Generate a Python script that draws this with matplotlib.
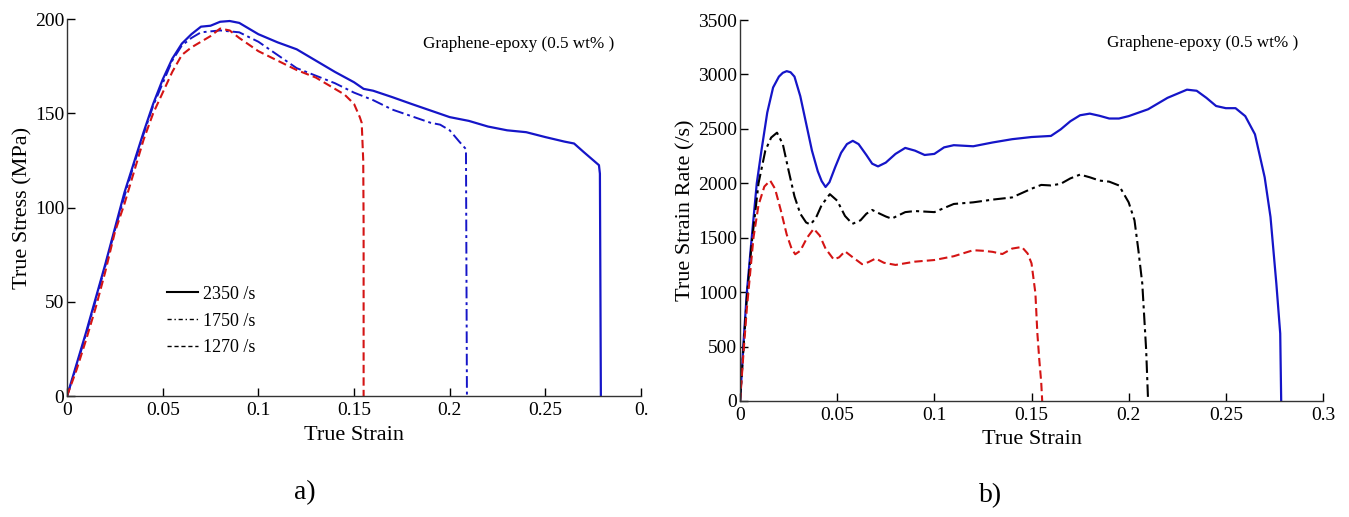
import matplotlib
matplotlib.use("Agg")
import matplotlib.pyplot as plt
from matplotlib.lines import Line2D

plt.rcParams['font.family'] = ['Liberation Serif', 'DejaVu Serif']

# ---- Panel a) True stress vs true strain ----
s2350_strain = [0, 0.005, 0.01, 0.015, 0.02, 0.025, 0.03, 0.035, 0.04, 0.045, 0.05, 0.055, 0.06, 0.065,
                0.07, 0.075, 0.08, 0.085, 0.09, 0.1, 0.11, 0.12, 0.13, 0.14, 0.15, 0.155, 0.16, 0.17,
                0.18, 0.19, 0.2, 0.21, 0.22, 0.23, 0.24, 0.25, 0.26, 0.265, 0.27, 0.278, 0.2785, 0.279]
s2350_stress = [0, 17, 34, 52, 70, 89, 108, 124, 140, 155, 168, 179, 187, 192,
                196, 196.5, 198.6, 199, 198, 192, 187.7, 184, 178, 172, 166.5, 163, 162, 158.6,
                155, 151.5, 148, 146, 143, 141, 140, 137.4, 135, 134, 129.5, 122.5, 118, 0]

s1750_strain = [0, 0.005, 0.01, 0.015, 0.02, 0.025, 0.03, 0.035, 0.04, 0.045, 0.05, 0.055, 0.06, 0.065,
                0.07, 0.08, 0.09, 0.1, 0.11, 0.12, 0.13, 0.14, 0.15, 0.16, 0.17, 0.18, 0.19, 0.195,
                0.2, 0.205, 0.2085, 0.209]
s1750_stress = [0, 16, 33, 51, 69, 88, 106, 123, 139, 154, 166, 178, 186, 190,
                193, 194, 193, 188, 181, 174, 170, 166, 161, 157, 152, 148.5, 145, 144,
                141, 135, 131, 0]

s1270_strain = [0, 0.005, 0.01, 0.015, 0.02, 0.025, 0.03, 0.035, 0.04, 0.045, 0.05, 0.055, 0.06, 0.065,
                0.07, 0.075, 0.08, 0.085, 0.09, 0.1, 0.11, 0.12, 0.13, 0.14, 0.145, 0.15, 0.153, 0.154,
                0.1548, 0.155, 0.155]
s1270_stress = [0, 14, 30, 47, 66, 87, 102, 119, 136, 150, 161, 172, 181, 185,
                188, 191, 195, 194, 190, 183, 178, 173, 169, 163, 160, 155, 148, 145,
                125, 90, 0]

# ---- Panel b) True strain rate vs true strain ----
r2350_strain = [0, 0.002, 0.0035, 0.006, 0.0086, 0.011, 0.014, 0.017, 0.02, 0.022, 0.024, 0.026, 0.028,
                0.031, 0.034, 0.037, 0.04, 0.042, 0.044, 0.046, 0.049, 0.052, 0.055, 0.058, 0.061, 0.065,
                0.068, 0.071, 0.075, 0.08, 0.085, 0.09, 0.095, 0.1, 0.105, 0.11, 0.115, 0.12,
                0.13, 0.14, 0.15, 0.16, 0.165, 0.17, 0.175, 0.18, 0.185, 0.19, 0.195, 0.2, 0.21, 0.22,
                0.23, 0.235, 0.24, 0.245, 0.25, 0.255, 0.26, 0.265, 0.27, 0.273, 0.276, 0.278, 0.2785]
r2350_rate = [0, 600, 1000, 1500, 2000, 2300, 2650, 2880, 2980, 3015, 3030, 3020, 2980,
              2800, 2550, 2300, 2110, 2020, 1966, 2010, 2150, 2280, 2360, 2390, 2360, 2260,
              2180, 2155, 2190, 2270, 2325, 2300, 2260, 2270, 2330, 2350, 2345, 2340,
              2375, 2405, 2425, 2435, 2495, 2570, 2625, 2640, 2620, 2595, 2595, 2617, 2680, 2785,
              2860, 2850, 2785, 2710, 2690, 2690, 2617, 2450, 2055, 1690, 1080, 620, 0]

r1750_strain = [0, 0.002, 0.0035, 0.006, 0.0095, 0.013, 0.016, 0.019, 0.022, 0.025, 0.028, 0.031, 0.034,
                0.0362, 0.039, 0.042, 0.0462, 0.05, 0.054, 0.0578, 0.062, 0.065, 0.068, 0.072, 0.075,
                0.078, 0.085, 0.09, 0.1, 0.11, 0.12, 0.13, 0.14,
                0.15, 0.155, 0.16, 0.165, 0.17, 0.175, 0.18, 0.185, 0.19, 0.195, 0.2, 0.203, 0.205,
                0.207, 0.208, 0.209, 0.21]
r1750_rate = [0, 550, 950, 1450, 2000, 2300, 2420, 2465, 2360, 2115, 1880, 1720, 1640,
              1621, 1680, 1800, 1900, 1840, 1700, 1627, 1660, 1720, 1755, 1720, 1695,
              1675, 1735, 1745, 1735, 1810, 1825, 1850, 1870,
              1950, 1985, 1980, 1995, 2045, 2080, 2055, 2025, 2015, 1980, 1825, 1660, 1385,
              1080, 775, 470, 0]

r1270_strain = [0, 0.002, 0.0035, 0.0069, 0.0095, 0.0125, 0.0155, 0.018, 0.021, 0.024, 0.0265, 0.0284,
                0.031, 0.0345, 0.0379, 0.041, 0.044, 0.0482, 0.051, 0.054, 0.058, 0.0628, 0.066, 0.0698,
                0.074, 0.08, 0.09, 0.1, 0.11, 0.12, 0.125, 0.13,
                0.135, 0.14, 0.145, 0.148, 0.15, 0.152, 0.153, 0.154, 0.155, 0.1555]
r1270_rate = [0, 500, 850, 1500, 1800, 1970, 2025, 1950, 1750, 1530, 1400, 1348,
              1380, 1500, 1582, 1520, 1400, 1300, 1320, 1375, 1320, 1257, 1275, 1309,
              1270, 1250, 1280, 1295, 1330, 1385, 1380, 1370,
              1350, 1400, 1415, 1355, 1265, 990, 625, 380, 170, 0]

xticks = [0, 0.05, 0.1, 0.15, 0.2, 0.25, 0.3]
xlabels_a = ['0', '0.05', '0.1', '0.15', '0.2', '0.25', '0.']
xlabels_b = ['0', '0.05', '0.1', '0.15', '0.2', '0.25', '0.3']
yticks_a = [0, 50, 100, 150, 200]
yticks_b = [0, 500, 1000, 1500, 2000, 2500, 3000, 3500]
legend_labels = ['2350 /s', '1750 /s', '1270 /s']
note = 'Graphene-epoxy (0.5 wt% )'

BLUE = '#1515c8'
RED = '#d41414'

fig = plt.figure(figsize=(13.49, 5.17), dpi=100)
ax1 = fig.add_axes([0.0497, 0.234, 0.4255, 0.729])
ax2 = fig.add_axes([0.5486, 0.2244, 0.4321, 0.7369])

def style(ax):
    for sp in ['top', 'right']:
        ax.spines[sp].set_visible(False)
    for sp in ['left', 'bottom']:
        ax.spines[sp].set_color('#333333')
        ax.spines[sp].set_linewidth(1.0)
    ax.tick_params(direction='in', length=6, width=1, labelsize=14, colors='black')
    ax.tick_params(axis='x', pad=4)
    ax.tick_params(axis='y', pad=2)

ax1.plot(s2350_strain, s2350_stress, color=BLUE, lw=1.6, ls='-')
ax1.plot(s1750_strain, s1750_stress, color=BLUE, lw=1.4, ls=(0, (6, 2, 1.5, 2)))
ax1.plot(s1270_strain, s1270_stress, color=RED, lw=1.5, ls=(0, (4, 2)))
ax1.set_xlim(0, 0.3)
ax1.set_ylim(0, 200)
ax1.set_xticks(xticks)
ax1.set_xticklabels(xlabels_a)
ax1.set_yticks(yticks_a)
style(ax1)
ax1.set_xlabel('True Strain', fontsize=16, labelpad=5)
ax1.set_ylabel('True Stress (MPa)', fontsize=16, labelpad=2)
ax1.text(0.62, 0.934, note, transform=ax1.transAxes, fontsize=12.3, ha='left', va='center')

handles = [Line2D([], [], color='black', lw=1.5, ls='-'),
           Line2D([], [], color='black', lw=1.0, ls=(0, (3, 2, 1, 2))),
           Line2D([], [], color='black', lw=1.0, ls=(0, (3, 2)))]
ax1.legend(handles, legend_labels, frameon=False, fontsize=13, loc='center left',
           bbox_to_anchor=(0.174, 0.199), borderpad=0, borderaxespad=0,
           handlelength=1.7, handletextpad=0.28, labelspacing=0.55)

ax2.plot(r2350_strain, r2350_rate, color=BLUE, lw=1.6, ls='-')
ax2.plot(r1750_strain, r1750_rate, color='black', lw=1.5, ls=(0, (6, 2, 1.5, 2)))
ax2.plot(r1270_strain, r1270_rate, color=RED, lw=1.5, ls=(0, (4, 2)))
ax2.set_xlim(0, 0.3)
ax2.set_ylim(0, 3500)
ax2.set_xticks(xticks)
ax2.set_xticklabels(xlabels_b)
ax2.set_yticks(yticks_b)
style(ax2)
ax2.set_xlabel('True Strain', fontsize=16, labelpad=5)
ax2.set_ylabel('True Strain Rate (/s)', fontsize=16, labelpad=2)
ax2.text(0.629, 0.939, note, transform=ax2.transAxes, fontsize=12.3, ha='left', va='center')

fig.text(0.226, 0.048, 'a)', fontsize=20, ha='center', va='center')
fig.text(0.734, 0.042, 'b)', fontsize=20, ha='center', va='center')

fig.savefig('out.png', dpi=100)
